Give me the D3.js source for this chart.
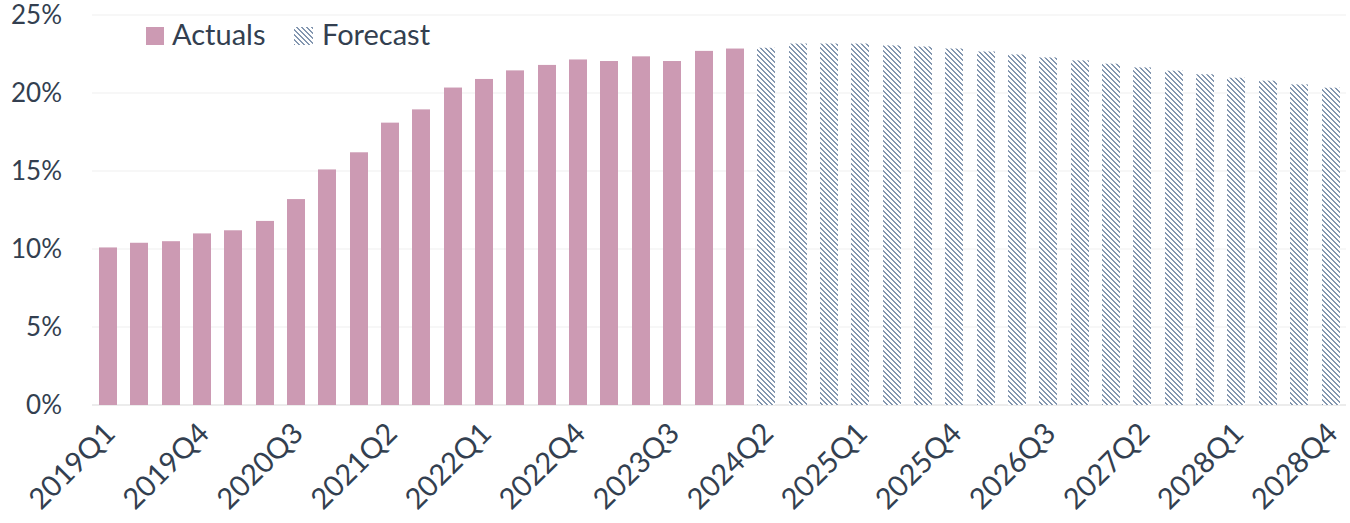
<!DOCTYPE html>
<html>
<head>
<meta charset="utf-8">
<script src="https://cdn.jsdelivr.net/npm/d3@7"></script>
<style>
  body { margin: 0; background: #fff; }
  svg { display: block; font-family: Lato, "Open Sans", sans-serif; }
</style>
</head>
<body>
<svg width="1350" height="523"></svg>
<script>
const actuals = [10.1, 10.4, 10.5, 11.0, 11.2, 11.8, 13.2, 15.1, 16.2, 18.1, 18.95,
  20.35, 20.9, 21.45, 21.8, 22.15, 22.05, 22.35, 22.05, 22.7, 22.85];
const forecast = [22.9, 23.17, 23.17, 23.17, 23.05, 22.98, 22.85, 22.66, 22.47, 22.28,
  22.09, 21.88, 21.64, 21.43, 21.2, 20.98, 20.79, 20.55, 20.34];
const years = [2019, 2020, 2021, 2022, 2023, 2024, 2025, 2026, 2027, 2028];
const yTicks = [0, 5, 10, 15, 20, 25];

let quarters = [];
years.forEach(y => [1, 2, 3, 4].forEach(q => quarters.push(y + "Q" + q)));

const data = quarters.map((q, i) => ({
  q: q,
  v: i < actuals.length ? actuals[i] : forecast[i - actuals.length],
  f: i >= actuals.length
}));

const m = {top: 15, right: 4, bottom: 118, left: 92},
  W = 1350, H = 523,
  gW = W - m.left - m.right,
  gH = H - m.top - m.bottom;

const txt = "#333f50";
const pink = "#cc9ab3";
const blue = "#8497b0";

const svg = d3.select("svg");
const defs = svg.append("defs");
const tile = 5;
const pat = defs.append("pattern")
  .attr("id", "hatch")
  .attr("patternUnits", "userSpaceOnUse")
  .attr("width", tile).attr("height", tile);
pat.append("rect").attr("width", tile).attr("height", tile).attr("fill", "#fff");
// staircase diagonal stripes, like Excel's wide downward diagonal
d3.range(tile).forEach(r => {
  [r, r + 1].forEach(c => {
    pat.append("rect")
      .attr("x", c % tile).attr("y", r)
      .attr("width", 1).attr("height", 1)
      .attr("fill", blue)
      .attr("shape-rendering", "crispEdges");
  });
});

const g = svg.append("g").attr("transform", `translate(${m.left},${m.top})`);

const x = d3.scaleBand()
  .domain(quarters)
  .range([0, gW])
  .paddingInner(0.44)
  .paddingOuter(0.22);

const y = d3.scaleLinear().domain([0, 25]).range([gH, 0]);

// gridlines
g.selectAll("line.grid")
  .data(yTicks)
  .enter()
  .append("line")
  .attr("x1", 0).attr("x2", gW)
  .attr("y1", d => y(d)).attr("y2", d => y(d))
  .attr("stroke", d => d === 0 ? "#e6e6e6" : "#f4f4f4")
  .attr("stroke-width", 1.5);

// y labels
g.selectAll("text.ylab")
  .data(yTicks)
  .enter()
  .append("text")
  .attr("x", -30)
  .attr("y", d => y(d))
  .attr("dy", "0.36em")
  .attr("text-anchor", "end")
  .attr("fill", txt)
  .style("font-size", "26px")
  .text(d => d + "%");

// bars
g.selectAll("rect.bar")
  .data(data)
  .enter()
  .append("rect")
  .attr("x", d => Math.round(m.left + x(d.q)) - m.left)
  .attr("y", d => y(d.v))
  .attr("width", Math.round(x.bandwidth()))
  .attr("height", d => gH - y(d.v))
  .attr("fill", d => d.f ? "url(#hatch)" : pink);

// x labels every 3rd quarter
g.selectAll("text.xlab")
  .data(quarters.filter((q, i) => i % 3 === 0))
  .enter()
  .append("text")
  .attr("transform", d => `translate(${x(d) + x.bandwidth() / 2 + 2},${gH + 23}) rotate(-45)`)
  .attr("text-anchor", "end")
  .attr("dy", "0.35em")
  .attr("fill", txt)
  .style("font-size", "29px")
  .text(d => d);

// legend
const leg = svg.append("g").attr("transform", "translate(146,27)");
leg.append("rect").attr("width", 18).attr("height", 18).attr("fill", pink);
leg.append("text").attr("x", 26).attr("y", 18).attr("fill", txt)
  .style("font-size", "29px").text("Actuals");
leg.append("rect").attr("x", 148).attr("width", 19).attr("height", 18).attr("fill", "url(#hatch)");
leg.append("text").attr("x", 176).attr("y", 18).attr("fill", txt)
  .style("font-size", "29px").text("Forecast");
</script>
</body>
</html>
